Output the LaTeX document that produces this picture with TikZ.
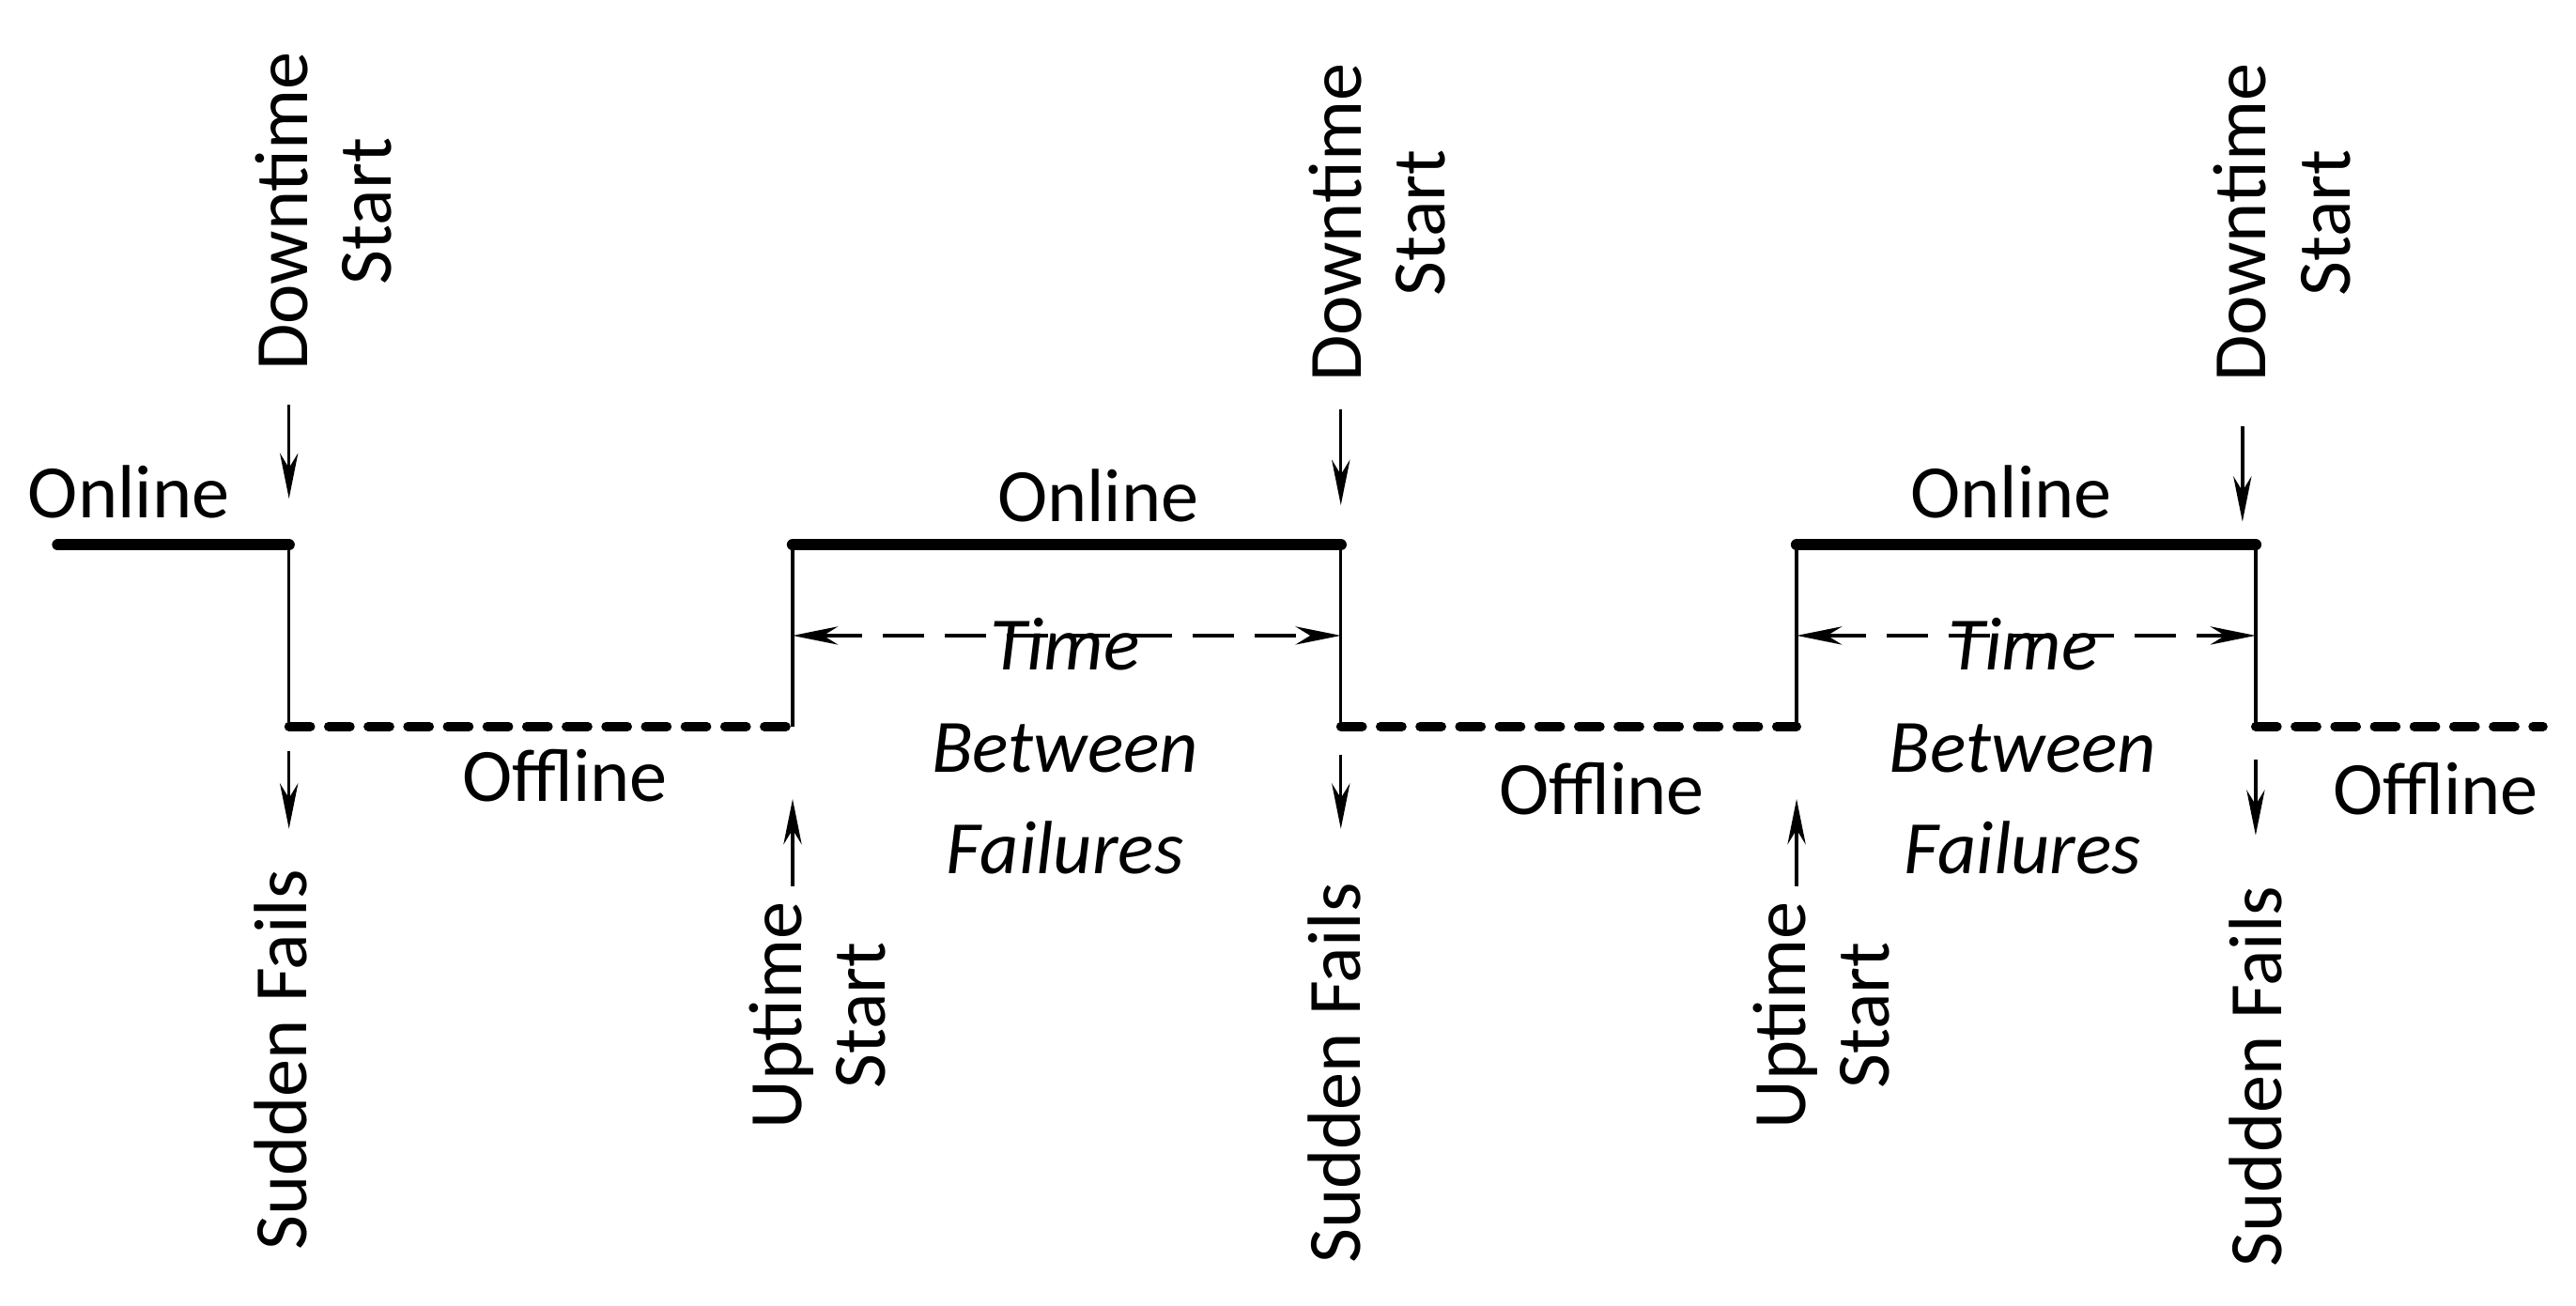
\documentclass[tikz,border=0pt]{standalone}
\usepackage{fontspec}
\setmainfont{Carlito}
\usetikzlibrary{arrows.meta}
\begin{document}
\begin{tikzpicture}[x=0.02cm,y=-0.02cm,>={Stealth[length=0.55cm,width=0.22cm]},
                    every node/.style={font=\fontsize{26}{29}\selectfont},
                    online/.style={line width=4pt,line cap=round},
                    offline/.style={line width=3.2pt,line cap=round,dash pattern=on 0.26cm off 0.22cm},
                    edge line/.style={line width=1.1pt},
                    gap/.style={line width=1.1pt,<->,dash pattern=on 0.5cm off 0.25cm},
                    tag/.style={rotate=90,align=center,inner sep=0pt}]
  \useasboundingbox (0,0) rectangle (1560,790.6);

  % corners of the wave
  \coordinate (s) at (35,330);
  \coordinate (d1) at (175,330);   \coordinate (f1) at (175,440);
  \coordinate (u1) at (480,440);   \coordinate (r1) at (480,330);
  \coordinate (d2) at (812,330);   \coordinate (f2) at (812,440);
  \coordinate (u2) at (1088,440);  \coordinate (r2) at (1088,330);
  \coordinate (d3) at (1366,330);  \coordinate (f3) at (1366,440);
  \coordinate (e) at (1540,440);

  \draw[online] (s) -- (d1);
  \draw[online] (r1) -- (d2);
  \draw[online] (r2) -- (d3);
  \draw[offline] (f1) -- (u1);
  \draw[offline] (f2) -- (u2);
  \draw[offline] (f3) -- (e);
  \draw[edge line] (d1) -- (f1);
  \draw[edge line] (u1) -- (r1) (d2) -- (f2);
  \draw[edge line] (u2) -- (r2) (d3) -- (f3);

  \node (on1) at (78,298) {Online};
  \node (on2) at (665,300) {Online};
  \node (on3) at (1218,298) {Online};
  \node (off1) at (342,470) {Offline};
  \node (off2) at (970,478) {Offline};
  \node (off3) at (1475,478) {Offline};

  % time between failures
  \draw[gap] (r1 |- 0,385) -- (d2 |- 0,385);
  \draw[gap] (r2 |- 0,385) -- (d3 |- 0,385);
  \node[align=center,font=\fontsize{26}{35}\selectfont\itshape] (tbf1) at (645,452) {Time\\Between\\Failures};
  \node[align=center,font=\fontsize{26}{35}\selectfont\itshape] (tbf2) at (1225,452) {Time\\Between\\Failures};

  % downtime start
  \node[tag] (ds1) at (196,128) {Downtime\\Start};
  \node[tag] (ds2) at (834,135) {Downtime\\Start};
  \node[tag] (ds3) at (1382,135) {Downtime\\Start};
  \draw[edge line,->] (175,245) -- (175,302);
  \draw[edge line,->] (812,248) -- (812,306);
  \draw[edge line,->] (1358,258) -- (1358,316);

  % sudden fails
  \node[tag] (sf1) at (170,642) {Sudden Fails};
  \node[tag] (sf2) at (808,650) {Sudden Fails};
  \node[tag] (sf3) at (1366,652) {Sudden Fails};
  \draw[edge line,->] (175,455) -- (175,502);
  \draw[edge line,->] (812,457) -- (812,502);
  \draw[edge line,->] (1366,460) -- (1366,506);

  % uptime start
  \node[tag] (us1) at (495,615) {Uptime\\Start};
  \node[tag] (us2) at (1103,615) {Uptime\\Start};
  \draw[edge line,->] (480,537) -- (480,484);
  \draw[edge line,->] (1088,537) -- (1088,484);
\end{tikzpicture}
\end{document}
